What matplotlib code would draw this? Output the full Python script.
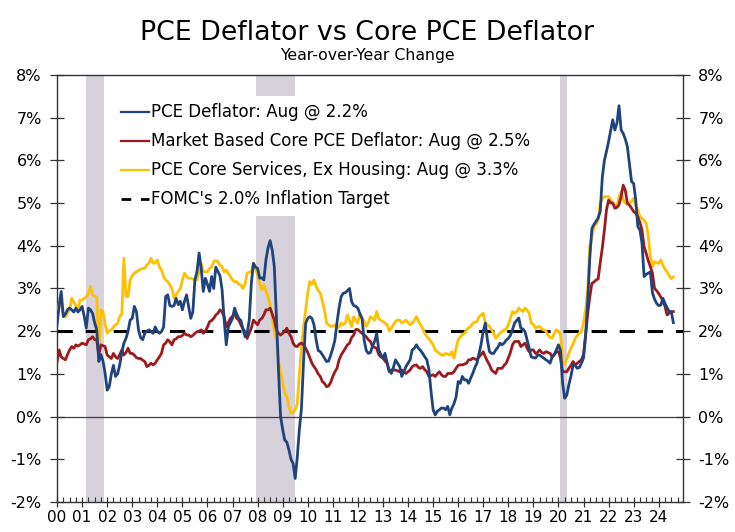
import numpy as np
import matplotlib
matplotlib.use("Agg")
import matplotlib.pyplot as plt
from matplotlib.ticker import MultipleLocator, FixedLocator, FuncFormatter
from matplotlib.lines import Line2D

# ---------------- data (monthly, Jan 2000 - Aug 2024, YoY %) ----------------
pce = [
    2.15, 2.6, 2.93, 2.34, 2.4, 2.5, 2.54, 2.5, 2.45, 2.54, 2.45, 2.5,        # 2000
    2.58, 2.35, 2.07, 2.54, 2.5, 2.42, 2.2, 2.03, 1.29, 1.45, 1.3, 1.02,      # 2001
    0.62, 0.7, 1.0, 1.2, 0.94, 1.0, 1.21, 1.5, 1.72, 1.83, 2.0, 2.26,         # 2002
    2.3, 2.58, 2.46, 2.03, 1.85, 1.8, 1.95, 2.0, 2.03, 1.99, 1.95, 2.1,       # 2003
    2.0, 1.95, 1.99, 2.1, 2.81, 2.85, 2.6, 2.58, 2.6, 2.77, 2.62, 2.7,        # 2004
    2.5, 2.7, 2.85, 2.58, 2.3, 2.45, 3.2, 3.4, 3.83, 3.47, 2.93, 3.24,        # 2005
    3.1, 2.93, 3.28, 3.0, 3.5, 3.4, 3.3, 2.97, 2.26, 1.68, 2.1, 2.2,          # 2006
    2.3, 2.54, 2.4, 2.3, 2.25, 2.05, 1.87, 1.95, 2.26, 3.12, 3.59, 3.5,       # 2007
    3.47, 3.24, 3.25, 3.2, 3.67, 3.95, 4.12, 3.9, 3.51, 2.34, 1.09, 0.0,      # 2008
    -0.3, -0.55, -0.6, -0.78, -1.0, -1.1, -1.45, -0.94, -0.3, 0.2, 1.3, 2.18, # 2009
    2.3, 2.34, 2.3, 2.15, 1.8, 1.55, 1.52, 1.45, 1.37, 1.29, 1.3, 1.44,       # 2010
    1.6, 1.79, 2.2, 2.55, 2.81, 2.89, 2.9, 2.95, 3.0, 2.69, 2.6, 2.58,        # 2011
    2.54, 2.4, 2.3, 1.79, 1.55, 1.48, 1.5, 1.65, 1.76, 1.95, 1.56, 1.45,      # 2012
    1.37, 1.48, 1.25, 1.09, 1.01, 1.15, 1.33, 1.25, 1.17, 0.94, 1.05, 1.17,   # 2013
    1.25, 1.33, 1.56, 1.6, 1.68, 1.6, 1.55, 1.48, 1.4, 1.33, 1.1, 0.6,        # 2014
    0.16, 0.04, 0.12, 0.16, 0.2, 0.2, 0.16, 0.24, 0.04, 0.2, 0.3, 0.46,       # 2015
    0.82, 0.78, 0.94, 0.86, 0.86, 0.78, 0.9, 1.01, 1.15, 1.25, 1.48, 1.7,     # 2016
    2.0, 2.19, 1.79, 1.52, 1.48, 1.48, 1.56, 1.62, 1.72, 1.68, 1.72, 1.79,    # 2017
    1.83, 1.9, 2.03, 2.19, 2.25, 2.31, 2.07, 2.05, 1.99, 1.79, 1.6, 1.4,      # 2018
    1.38, 1.37, 1.44, 1.44, 1.4, 1.37, 1.33, 1.3, 1.25, 1.4, 1.45, 1.56,      # 2019
    1.68, 1.55, 0.78, 0.43, 0.5, 0.75, 0.95, 1.21, 1.2, 1.13, 1.15, 1.25,     # 2020
    1.37, 1.9, 2.7, 3.7, 4.4, 4.5, 4.57, 4.65, 4.8, 5.6, 6.0, 6.21,           # 2021
    6.44, 6.7, 6.95, 6.71, 6.87, 7.28, 6.71, 6.63, 6.5, 6.32, 5.9, 5.5,       # 2022
    5.46, 5.07, 4.45, 4.37, 4.06, 3.28, 3.33, 3.36, 3.39, 2.9, 2.75, 2.65,    # 2023
    2.6, 2.61, 2.77, 2.65, 2.55, 2.46, 2.46, 2.2,                             # 2024
]

market_core = [
    1.28, 1.56, 1.4, 1.36, 1.33, 1.45, 1.56, 1.64, 1.6, 1.68, 1.65, 1.68,
    1.72, 1.7, 1.68, 1.8, 1.82, 1.87, 1.8, 1.8, 1.44, 1.68, 1.66, 1.64,
    1.44, 1.4, 1.36, 1.48, 1.4, 1.36, 1.45, 1.56, 1.44, 1.5, 1.6, 1.48,
    1.48, 1.44, 1.38, 1.36, 1.36, 1.32, 1.29, 1.17, 1.2, 1.25, 1.21, 1.25,
    1.33, 1.4, 1.48, 1.68, 1.72, 1.8, 1.75, 1.68, 1.8, 1.82, 1.87, 1.87,
    1.9, 1.95, 1.91, 1.91, 1.87, 1.9, 1.95, 1.99, 2.0, 2.03, 1.95, 2.0,
    2.1, 2.22, 2.25, 2.3, 2.38, 2.42, 2.5, 2.45, 2.34, 2.1, 2.2, 2.3,
    2.35, 2.42, 2.3, 2.26, 2.15, 2.05, 1.99, 1.83, 1.95, 2.07, 2.26, 2.2,
    2.15, 2.26, 2.3, 2.38, 2.5, 2.5, 2.54, 2.4, 2.26, 2.03, 1.95, 1.91,
    1.95, 2.0, 2.07, 1.95, 1.87, 1.72, 1.65, 1.64, 1.7, 1.72, 1.68, 1.6,
    1.5, 1.38, 1.25, 1.17, 1.1, 1.0, 0.94, 0.82, 0.78, 0.7, 0.72, 0.8,
    0.94, 1.05, 1.13, 1.33, 1.44, 1.52, 1.6, 1.68, 1.72, 1.85, 1.91, 2.04,
    2.04, 1.99, 1.95, 1.91, 1.87, 1.8, 1.76, 1.64, 1.62, 1.6, 1.45, 1.4,
    1.37, 1.3, 1.25, 1.05, 1.09, 1.09, 1.09, 1.07, 1.05, 1.09, 1.05, 1.01,
    1.05, 1.09, 1.17, 1.2, 1.21, 1.15, 1.13, 1.17, 1.1, 1.05, 0.94, 0.96,
    0.98, 0.94, 1.0, 1.05, 0.98, 0.94, 0.94, 1.01, 1.01, 1.01, 1.05, 1.13,
    1.2, 1.21, 1.21, 1.23, 1.25, 1.33, 1.33, 1.37, 1.35, 1.33, 1.4, 1.45,
    1.52, 1.4, 1.3, 1.21, 1.09, 1.05, 1.01, 1.13, 1.13, 1.13, 1.2, 1.25,
    1.37, 1.5, 1.68, 1.76, 1.76, 1.76, 1.64, 1.68, 1.72, 1.6, 1.52, 1.56,
    1.56, 1.48, 1.5, 1.56, 1.5, 1.48, 1.52, 1.5, 1.48, 1.4, 1.45, 1.52,
    1.52, 1.37, 1.05, 1.05, 1.05, 1.13, 1.2, 1.29, 1.21, 1.25, 1.29, 1.33,
    1.45, 1.9, 2.4, 2.8, 3.12, 3.15, 3.2, 3.22, 3.6, 3.95, 4.37, 4.84,
    5.07, 5.0, 5.0, 4.88, 4.9, 4.96, 5.15, 5.42, 5.3, 5.0, 4.95, 4.88,
    4.8, 4.76, 4.68, 4.55, 4.37, 3.98, 3.82, 3.65, 3.51, 3.36, 3.0, 2.95,
    2.88, 2.8, 2.72, 2.58, 2.38, 2.42, 2.45, 2.46,
]

core_services_ex_housing = [
    2.34, 2.65, 2.61, 2.4, 2.33, 2.42, 2.5, 2.77, 2.69, 2.6, 2.5, 2.73,
    2.73, 2.77, 2.8, 2.89, 3.05, 2.85, 2.81, 2.8, 1.48, 2.5, 2.45, 2.18,
    1.95, 2.0, 2.03, 2.1, 2.15, 2.18, 2.34, 2.4, 3.71, 2.81, 2.81, 3.2,
    3.3, 3.36, 3.39, 3.42, 3.45, 3.47, 3.47, 3.55, 3.6, 3.71, 3.59, 3.6,
    3.67, 3.5, 3.43, 3.28, 3.2, 3.16, 3.08, 3.0, 2.77, 2.85, 2.93, 3.0,
    3.2, 3.36, 3.28, 3.24, 3.24, 3.22, 3.2, 3.2, 3.4, 3.59, 3.4, 3.39,
    3.39, 3.47, 3.5, 3.63, 3.65, 3.63, 3.55, 3.51, 3.39, 3.43, 3.35, 3.28,
    3.2, 3.16, 3.16, 3.1, 3.08, 3.0, 3.1, 3.36, 3.38, 3.39, 3.59, 3.45,
    3.32, 3.12, 2.97, 3.08, 2.95, 2.81, 2.6, 2.34, 2.0, 1.79, 1.3, 1.05,
    0.8, 0.55, 0.47, 0.23, 0.08, 0.1, 0.16, 0.31, 1.01, 1.6, 2.1, 2.5,
    2.9, 3.16, 3.1, 3.2, 3.05, 2.95, 2.89, 2.7, 2.5, 2.19, 2.15, 2.11,
    2.12, 2.15, 2.07, 2.1, 2.19, 2.15, 2.2, 2.38, 2.25, 2.11, 2.34, 2.25,
    2.19, 2.42, 2.3, 2.23, 2.11, 2.2, 2.34, 2.3, 2.26, 2.46, 2.3, 2.25,
    2.23, 2.19, 2.15, 2.0, 2.07, 2.15, 2.23, 2.26, 2.26, 2.19, 2.22, 2.26,
    2.2, 2.15, 2.19, 2.25, 2.34, 2.23, 2.15, 2.07, 1.95, 1.87, 1.83, 1.75,
    1.68, 1.56, 1.52, 1.48, 1.44, 1.44, 1.48, 1.46, 1.44, 1.52, 1.37, 1.6,
    1.8, 1.87, 1.91, 1.95, 2.03, 2.08, 2.11, 2.19, 2.2, 2.23, 2.34, 2.38,
    2.42, 2.19, 2.15, 2.11, 2.03, 1.95, 1.83, 1.9, 1.95, 1.99, 2.03, 2.05,
    2.15, 2.3, 2.46, 2.42, 2.45, 2.54, 2.5, 2.46, 2.54, 2.5, 2.42, 2.19,
    2.15, 2.07, 2.1, 2.11, 2.05, 2.03, 2.0, 1.91, 1.85, 1.84, 1.95, 2.03,
    2.0, 1.91, 1.3, 1.21, 1.35, 1.48, 1.6, 1.7, 1.83, 1.9, 1.95, 1.99,
    2.2, 2.5, 2.97, 4.0, 4.2, 4.45, 4.5, 4.6, 5.0, 5.1, 5.15, 5.15,
    5.15, 5.07, 5.0, 4.96, 4.92, 5.15, 5.27, 5.07, 5.0, 4.96, 5.0, 5.04,
    5.11, 4.95, 4.84, 4.68, 4.64, 4.6, 4.53, 4.22, 3.75, 3.51, 3.63, 3.6,
    3.59, 3.67, 3.55, 3.45, 3.39, 3.3, 3.23, 3.27,
]

fomc_target = 2.0
recessions = [(2001.17, 2001.88), (2007.92, 2009.5), (2020.08, 2020.33)]
year_labels = ["%02d" % (y % 100) for y in range(2000, 2025)]
legend_labels = [
    "PCE Deflator: Aug @ 2.2%",
    "Market Based Core PCE Deflator: Aug @ 2.5%",
    "PCE Core Services, Ex Housing: Aug @ 3.3%",
    "FOMC's 2.0% Inflation Target",
]

# ---------------- plotting ----------------
n = len(pce)
t = 2000 + np.arange(n) / 12.0

fig = plt.figure(figsize=(7.35, 5.32), dpi=100)
ax = fig.add_axes([0.0776, 0.0564, 0.8517, 0.8027])

for a, b in recessions:
    ax.axvspan(a, b, color="#d6d1da", lw=0, zorder=0)

ax.axhline(0, color="#404040", lw=0.9, zorder=1)
ax.axhline(fomc_target, color="black", lw=2.2, dashes=(5, 4.2), zorder=2)

navy = "#1f437c"
red = "#9b1b1f"
gold = "#ffc000"
ax.plot(t, core_services_ex_housing, color=gold, lw=2.0, zorder=3)
ax.plot(t, market_core, color=red, lw=2.0, zorder=4)
ax.plot(t, pce, color=navy, lw=2.0, zorder=5)

ax.set_xlim(2000, 2024.97)
ax.set_ylim(-2, 8)

ax.xaxis.set_major_locator(FixedLocator(np.arange(2000, 2025)))
ax.xaxis.set_minor_locator(MultipleLocator(0.25))
ax.set_xticklabels(year_labels)
ax.yaxis.set_major_locator(MultipleLocator(1))
ax.yaxis.set_major_formatter(FuncFormatter(lambda v, p: "%d%%" % v))

ax.tick_params(axis="x", which="major", direction="inout", length=7, width=0.9,
               labelsize=11, pad=2, colors="#333333", labelcolor="black")
ax.tick_params(axis="x", which="minor", direction="in", length=3.5, width=0.8,
               colors="#333333")
ax.tick_params(axis="y", which="major", direction="inout", length=10, width=0.9,
               labelsize=11.5, left=True, right=True, labelleft=True, labelright=True,
               pad=6, colors="#333333", labelcolor="black")

for s in ax.spines.values():
    s.set_color("#333333")
    s.set_linewidth(1.0)

handles = [
    Line2D([], [], color=navy, lw=1.6),
    Line2D([], [], color=red, lw=1.6),
    Line2D([], [], color=gold, lw=1.6),
    Line2D([], [], color="black", lw=2.0, dashes=(3.5, 3.5)),
]
leg = ax.legend(handles, legend_labels, loc="upper left",
                bbox_to_anchor=(0.09, 0.951), frameon=True, fontsize=12,
                handlelength=1.7, handletextpad=0.12, labelspacing=0.66,
                borderpad=0.45, borderaxespad=0)
leg.get_frame().set_facecolor("white")
leg.get_frame().set_edgecolor("none")
leg.get_frame().set_alpha(1)
leg.get_frame().set_boxstyle("square", pad=0)
leg.set_zorder(10)

fig.text(0.5, 0.938, "PCE Deflator vs Core PCE Deflator", ha="center", va="center",
         fontsize=19.3)
fig.text(0.5, 0.896, "Year-over-Year Change", ha="center", va="center", fontsize=11.3)

fig.savefig("out.png", dpi=100)
